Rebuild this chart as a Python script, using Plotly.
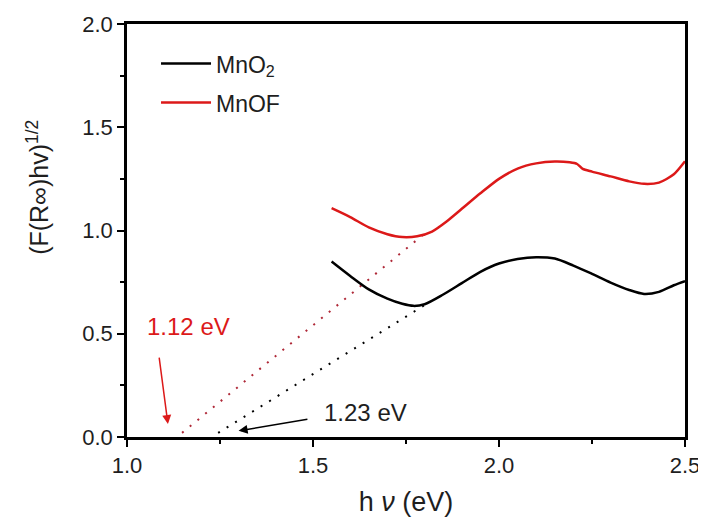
import plotly.graph_objects as go

# ---- data ----
hv_mno2 = [1.55, 1.60, 1.65, 1.70, 1.74, 1.77, 1.80, 1.85, 1.90, 1.95, 2.00, 2.05, 2.10,
           2.15, 2.20, 2.25, 2.30, 2.35, 2.39, 2.43, 2.47, 2.50]
y_mno2 = [0.85, 0.78, 0.715, 0.67, 0.645, 0.635, 0.643, 0.69, 0.745, 0.80, 0.84, 0.862, 0.871,
          0.864, 0.83, 0.79, 0.748, 0.712, 0.693, 0.703, 0.735, 0.755]

hv_mnof = [1.55, 1.60, 1.65, 1.70, 1.74, 1.78, 1.82, 1.86, 1.90, 1.95, 2.00, 2.05, 2.10,
           2.15, 2.19, 2.21, 2.225, 2.25, 2.30, 2.35, 2.39, 2.43, 2.47, 2.50]
y_mnof = [1.108, 1.065, 1.015, 0.982, 0.968, 0.972, 0.995, 1.045, 1.105, 1.18, 1.25, 1.30, 1.325,
          1.334, 1.33, 1.322, 1.298, 1.285, 1.262, 1.238, 1.226, 1.232, 1.272, 1.335]

# tangent (extrapolation) lines
tan_mnof_x = [1.148, 1.81]
tan_mnof_y = [0.02, 1.0]
tan_mno2_x = [1.245, 1.81]
tan_mno2_y = [0.02, 0.65]

labels = ["1.12 eV", "1.23 eV"]
y_title = "(F(R∞)hv)<sup>1/2</sup>"
x_title = "h <i>ν</i> (eV)"

RED = "rgb(220,25,25)"
INK = "#1e1e1e"
FONT = "Liberation Sans, Arial, sans-serif"

fig = go.Figure()
fig.add_trace(go.Scatter(x=tan_mnof_x, y=tan_mnof_y, mode="lines", showlegend=False,
                         line=dict(color="rgb(175,40,55)", width=2, dash="2px,8px")))
fig.add_trace(go.Scatter(x=tan_mno2_x, y=tan_mno2_y, mode="lines", showlegend=False,
                         line=dict(color="black", width=2, dash="2px,8px")))
fig.add_trace(go.Scatter(x=hv_mno2, y=y_mno2, mode="lines", name="MnO<sub>2</sub>",
                         legendgroup="a",
                         line=dict(color="black", width=2.5, shape="spline", smoothing=0.8)))
fig.add_trace(go.Scatter(x=hv_mnof, y=y_mnof, mode="lines", name="MnOF",
                         legendgroup="b",
                         line=dict(color=RED, width=2.5, shape="spline", smoothing=0.7)))

# arrows
fig.add_annotation(x=1.11, y=0.063, ax=1.086, ay=0.392, axref="x", ayref="y",
                   xref="x", yref="y", text="", showarrow=True, arrowhead=2,
                   arrowsize=1.2, arrowwidth=1.5, arrowcolor=RED)
fig.add_annotation(x=1.30, y=0.03, ax=1.489, ay=0.087, axref="x", ayref="y",
                   xref="x", yref="y", text="", showarrow=True, arrowhead=2,
                   arrowsize=1.2, arrowwidth=1.5, arrowcolor="black")
fig.add_annotation(x=1.164, y=0.537, text=labels[0], showarrow=False,
                   font=dict(family=FONT, size=24, color=RED))
fig.add_annotation(x=1.64, y=0.121, text=labels[1], showarrow=False,
                   font=dict(family=FONT, size=24, color=INK))

# y-axis title (placed as a rotated annotation to match position)
fig.add_annotation(x=-0.16, y=0.605, xref="paper", yref="paper", text=y_title,
                   showarrow=False, textangle=-90, xanchor="center", yanchor="middle",
                   font=dict(family=FONT, size=25, color=INK))

axis_common = dict(showline=True, linewidth=2.5, linecolor="black", mirror=True,
                   ticks="outside", ticklen=7, tickwidth=2, tickcolor="black",
                   showgrid=False, zeroline=False, automargin=False,
                   ticklabeloverflow="allow",
                   tickfont=dict(family=FONT, size=22, color=INK))

fig.update_xaxes(range=[1.0, 2.5], tickvals=[1.0, 1.5, 2.0, 2.5],
                 ticktext=["1.0", "1.5", "2.0", "2.5"],
                 minor=dict(ticks="outside", ticklen=4, tickwidth=2, dtick=0.25, tick0=1.0),
                 title=dict(text=x_title, font=dict(family=FONT, size=27, color=INK),
                            standoff=22),
                 **axis_common)
fig.update_yaxes(range=[0, 2.0], tickvals=[0, 0.5, 1.0, 1.5, 2.0],
                 ticktext=["0.0", "0.5", "1.0", "1.5", "2.0"],
                 minor=dict(ticks="outside", ticklen=4, tickwidth=2, dtick=0.25, tick0=0),
                 **axis_common)

# page body has an 8px margin, so the figure is shifted by (8, 8)
fig.update_layout(
    width=698, height=509,
    margin=dict(l=119, r=21, t=16, b=80),
    plot_bgcolor="white", paper_bgcolor="white",
    legend=dict(x=0.052, y=0.956, xanchor="left", yanchor="top",
                font=dict(family=FONT, size=23, color=INK),
                bgcolor="rgba(0,0,0,0)", itemwidth=50, tracegroupgap=6),
)

fig.write_html("out.html")
